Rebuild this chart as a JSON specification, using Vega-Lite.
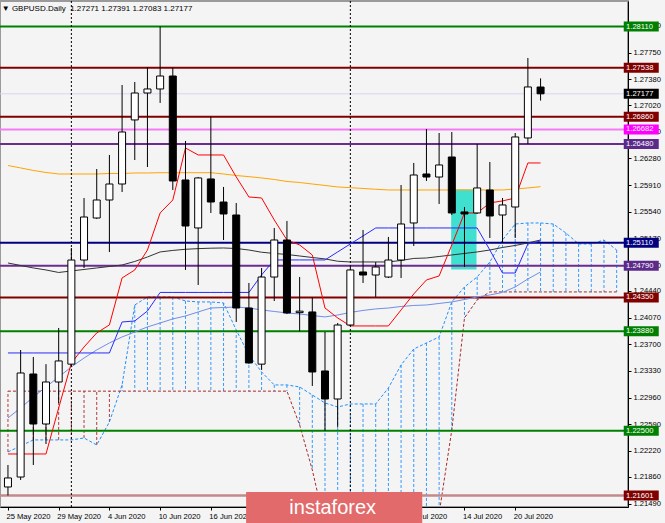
{
  "$schema": "https://vega.github.io/schema/vega-lite/v6.json",
  "autosize": {"type": "none"},
  "padding": {"left": 0, "top": 1, "right": 37, "bottom": 16},
  "width": 628,
  "height": 506,
  "background": "#f4f4f4",
  "title": {
    "text": "▼ GBPUSD.Daily\u00a0 1.27271 1.27391 1.27083 1.27177",
    "anchor": "start",
    "offset": -12,
    "dx": 3,
    "font": "Liberation Sans",
    "fontSize": 8,
    "fontWeight": "normal",
    "color": "#000"
  },
  "datasets": {
    "candles": [
      {"i": 0, "d": "2020-05-25", "o": 1.2172, "h": 1.22025, "l": 1.21601, "c": 1.21845},
      {"i": 1, "d": "2020-05-26", "o": 1.21858, "h": 1.23621, "l": 1.21817, "c": 1.23302},
      {"i": 2, "d": "2020-05-27", "o": 1.23288, "h": 1.23524, "l": 1.22025, "c": 1.22594},
      {"i": 3, "d": "2020-05-28", "o": 1.22594, "h": 1.23425, "l": 1.22316, "c": 1.23177},
      {"i": 4, "d": "2020-05-29", "o": 1.23177, "h": 1.23927, "l": 1.22886, "c": 1.23469},
      {"i": 5, "d": "2020-06-01", "o": 1.23425, "h": 1.25037, "l": 1.23397, "c": 1.2487},
      {"i": 6, "d": "2020-06-02", "o": 1.2487, "h": 1.25731, "l": 1.24759, "c": 1.25467},
      {"i": 7, "d": "2020-06-03", "o": 1.25453, "h": 1.26133, "l": 1.2544, "c": 1.25703},
      {"i": 8, "d": "2020-06-04", "o": 1.25703, "h": 1.26328, "l": 1.24981, "c": 1.25925},
      {"i": 9, "d": "2020-06-05", "o": 1.25925, "h": 1.27299, "l": 1.25814, "c": 1.26647},
      {"i": 10, "d": "2020-06-08", "o": 1.26814, "h": 1.27341, "l": 1.26258, "c": 1.27188},
      {"i": 11, "d": "2020-06-09", "o": 1.27188, "h": 1.27549, "l": 1.26161, "c": 1.27244},
      {"i": 12, "d": "2020-06-10", "o": 1.27244, "h": 1.2811, "l": 1.2705, "c": 1.27424},
      {"i": 13, "d": "2020-06-11", "o": 1.27424, "h": 1.27538, "l": 1.25842, "c": 1.25967},
      {"i": 14, "d": "2020-06-12", "o": 1.25981, "h": 1.26522, "l": 1.24732, "c": 1.25342},
      {"i": 15, "d": "2020-06-15", "o": 1.25315, "h": 1.26023, "l": 1.24523, "c": 1.26009},
      {"i": 16, "d": "2020-06-16", "o": 1.25995, "h": 1.2686, "l": 1.25523, "c": 1.25675},
      {"i": 17, "d": "2020-06-17", "o": 1.25675, "h": 1.25884, "l": 1.25148, "c": 1.25509},
      {"i": 18, "d": "2020-06-18", "o": 1.25495, "h": 1.25661, "l": 1.2401, "c": 1.24204},
      {"i": 19, "d": "2020-06-19", "o": 1.24204, "h": 1.24551, "l": 1.2343, "c": 1.23441},
      {"i": 20, "d": "2020-06-22", "o": 1.23425, "h": 1.24759, "l": 1.23344, "c": 1.24634},
      {"i": 21, "d": "2020-06-23", "o": 1.24634, "h": 1.25315, "l": 1.24301, "c": 1.25148},
      {"i": 22, "d": "2020-06-24", "o": 1.25148, "h": 1.25412, "l": 1.2412, "c": 1.24135},
      {"i": 23, "d": "2020-06-25", "o": 1.2414, "h": 1.24634, "l": 1.2388, "c": 1.2416},
      {"i": 24, "d": "2020-06-26", "o": 1.24149, "h": 1.2435, "l": 1.23122, "c": 1.23316},
      {"i": 25, "d": "2020-06-29", "o": 1.2333, "h": 1.23871, "l": 1.225, "c": 1.22941},
      {"i": 26, "d": "2020-06-30", "o": 1.22941, "h": 1.23996, "l": 1.22553, "c": 1.23968},
      {"i": 27, "d": "2020-07-01", "o": 1.23968, "h": 1.24774, "l": 1.2396, "c": 1.24732},
      {"i": 28, "d": "2020-07-02", "o": 1.24704, "h": 1.25287, "l": 1.24551, "c": 1.24662},
      {"i": 29, "d": "2020-07-03", "o": 1.24662, "h": 1.24843, "l": 1.24357, "c": 1.24773},
      {"i": 30, "d": "2020-07-06", "o": 1.24634, "h": 1.2519, "l": 1.2462, "c": 1.2487},
      {"i": 31, "d": "2020-07-07", "o": 1.2487, "h": 1.25911, "l": 1.2462, "c": 1.2537},
      {"i": 32, "d": "2020-07-08", "o": 1.25384, "h": 1.26217, "l": 1.25065, "c": 1.2605},
      {"i": 33, "d": "2020-07-09", "o": 1.26064, "h": 1.26689, "l": 1.25967, "c": 1.26022},
      {"i": 34, "d": "2020-07-10", "o": 1.26022, "h": 1.26633, "l": 1.25648, "c": 1.26189},
      {"i": 35, "d": "2020-07-13", "o": 1.263, "h": 1.26647, "l": 1.25495, "c": 1.25523},
      {"i": 36, "d": "2020-07-14", "o": 1.25537, "h": 1.25606, "l": 1.24774, "c": 1.25509},
      {"i": 37, "d": "2020-07-15", "o": 1.25523, "h": 1.2648, "l": 1.2551, "c": 1.2587},
      {"i": 38, "d": "2020-07-16", "o": 1.25842, "h": 1.26231, "l": 1.25176, "c": 1.25481},
      {"i": 39, "d": "2020-07-17", "o": 1.25495, "h": 1.25731, "l": 1.25106, "c": 1.25634},
      {"i": 40, "d": "2020-07-20", "o": 1.25606, "h": 1.26633, "l": 1.25176, "c": 1.26578},
      {"i": 41, "d": "2020-07-21", "o": 1.26564, "h": 1.27674, "l": 1.2648, "c": 1.27272},
      {"i": 42, "d": "2020-07-22", "o": 1.27271, "h": 1.27391, "l": 1.27083, "c": 1.27177}
    ],
    "ind": [
      {"i": 0, "ma1": 1.26182, "ma2": 1.24829, "ma3": 1.22678, "ts": 1.22178, "ks": 1.2358},
      {"i": 1, "ma1": 1.26148, "ma2": 1.24794, "ma3": 1.22817, "ts": 1.22178, "ks": 1.2358},
      {"i": 2, "ma1": 1.26113, "ma2": 1.2476, "ma3": 1.22969, "ts": 1.22178, "ks": 1.2358},
      {"i": 3, "ma1": 1.26085, "ma2": 1.24732, "ma3": 1.23108, "ts": 1.22178, "ks": 1.2358},
      {"i": 4, "ma1": 1.26064, "ma2": 1.24697, "ma3": 1.23247, "ts": 1.22817, "ks": 1.2358},
      {"i": 5, "ma1": 1.26064, "ma2": 1.24718, "ma3": 1.23386, "ts": 1.23441, "ks": 1.2358},
      {"i": 6, "ma1": 1.26064, "ma2": 1.24739, "ma3": 1.2351, "ts": 1.23663, "ks": 1.2358},
      {"i": 7, "ma1": 1.26064, "ma2": 1.2476, "ma3": 1.23622, "ts": 1.23858, "ks": 1.2358},
      {"i": 8, "ma1": 1.26071, "ma2": 1.2478, "ma3": 1.23719, "ts": 1.23969, "ks": 1.2358},
      {"i": 9, "ma1": 1.26071, "ma2": 1.24801, "ma3": 1.23802, "ts": 1.24621, "ks": 1.2401},
      {"i": 10, "ma1": 1.26078, "ma2": 1.2485, "ma3": 1.23871, "ts": 1.24732, "ks": 1.24024},
      {"i": 11, "ma1": 1.26078, "ma2": 1.24912, "ma3": 1.23941, "ts": 1.25009, "ks": 1.24163},
      {"i": 12, "ma1": 1.26082, "ma2": 1.24982, "ma3": 1.23996, "ts": 1.25523, "ks": 1.2442},
      {"i": 13, "ma1": 1.26082, "ma2": 1.25003, "ma3": 1.24052, "ts": 1.25703, "ks": 1.2442},
      {"i": 14, "ma1": 1.26082, "ma2": 1.25019, "ma3": 1.24093, "ts": 1.26425, "ks": 1.2442},
      {"i": 15, "ma1": 1.26082, "ma2": 1.25028, "ma3": 1.24149, "ts": 1.26328, "ks": 1.2442},
      {"i": 16, "ma1": 1.26082, "ma2": 1.25034, "ma3": 1.24204, "ts": 1.26328, "ks": 1.2442},
      {"i": 17, "ma1": 1.26064, "ma2": 1.25037, "ma3": 1.24211, "ts": 1.26328, "ks": 1.2442},
      {"i": 18, "ma1": 1.26043, "ma2": 1.2503, "ma3": 1.24218, "ts": 1.26023, "ks": 1.2442},
      {"i": 19, "ma1": 1.26027, "ma2": 1.25009, "ma3": 1.24204, "ts": 1.25745, "ks": 1.2442},
      {"i": 20, "ma1": 1.26009, "ma2": 1.24978, "ma3": 1.24177, "ts": 1.25731, "ks": 1.24663},
      {"i": 21, "ma1": 1.25988, "ma2": 1.24961, "ma3": 1.24156, "ts": 1.25426, "ks": 1.24871},
      {"i": 22, "ma1": 1.2596, "ma2": 1.24947, "ma3": 1.24135, "ts": 1.25148, "ks": 1.24871},
      {"i": 23, "ma1": 1.25946, "ma2": 1.24926, "ma3": 1.24121, "ts": 1.25079, "ks": 1.24871},
      {"i": 24, "ma1": 1.25925, "ma2": 1.24905, "ma3": 1.241, "ts": 1.2494, "ks": 1.24871},
      {"i": 25, "ma1": 1.25905, "ma2": 1.24885, "ma3": 1.2408, "ts": 1.24204, "ks": 1.24871},
      {"i": 26, "ma1": 1.25884, "ma2": 1.24853, "ma3": 1.24107, "ts": 1.24066, "ks": 1.24982},
      {"i": 27, "ma1": 1.25874, "ma2": 1.24843, "ma3": 1.24142, "ts": 1.23955, "ks": 1.25093},
      {"i": 28, "ma1": 1.25863, "ma2": 1.24843, "ma3": 1.2417, "ts": 1.23955, "ks": 1.25204},
      {"i": 29, "ma1": 1.25852, "ma2": 1.24843, "ma3": 1.24191, "ts": 1.23955, "ks": 1.25315},
      {"i": 30, "ma1": 1.25842, "ma2": 1.24843, "ma3": 1.24204, "ts": 1.23955, "ks": 1.25315},
      {"i": 31, "ma1": 1.25842, "ma2": 1.24864, "ma3": 1.24225, "ts": 1.24177, "ks": 1.25315},
      {"i": 32, "ma1": 1.25842, "ma2": 1.24892, "ma3": 1.24239, "ts": 1.24399, "ks": 1.25315},
      {"i": 33, "ma1": 1.25842, "ma2": 1.24898, "ma3": 1.24246, "ts": 1.24593, "ks": 1.25315},
      {"i": 34, "ma1": 1.25842, "ma2": 1.24919, "ma3": 1.24267, "ts": 1.24649, "ks": 1.25315},
      {"i": 35, "ma1": 1.25842, "ma2": 1.2494, "ma3": 1.24288, "ts": 1.25079, "ks": 1.25315},
      {"i": 36, "ma1": 1.25842, "ma2": 1.24961, "ma3": 1.24322, "ts": 1.25523, "ks": 1.25315},
      {"i": 37, "ma1": 1.25842, "ma2": 1.24982, "ma3": 1.24357, "ts": 1.25523, "ks": 1.25315},
      {"i": 38, "ma1": 1.25842, "ma2": 1.25009, "ma3": 1.24385, "ts": 1.25662, "ks": 1.25009},
      {"i": 39, "ma1": 1.25842, "ma2": 1.25044, "ma3": 1.2442, "ts": 1.2569, "ks": 1.2469},
      {"i": 40, "ma1": 1.25856, "ma2": 1.25072, "ma3": 1.24496, "ts": 1.25731, "ks": 1.2469},
      {"i": 41, "ma1": 1.2587, "ma2": 1.25107, "ma3": 1.24607, "ts": 1.26217, "ks": 1.25093},
      {"i": 42, "ma1": 1.25888, "ma2": 1.25148, "ma3": 1.24704, "ts": 1.26217, "ks": 1.25134}
    ],
    "cloud": [
      {"i": 0, "a": 1.22206, "b": 1.2305},
      {"i": 1, "a": 1.22289, "b": 1.2305},
      {"i": 2, "a": 1.22373, "b": 1.2305},
      {"i": 3, "a": 1.22373, "b": 1.2305},
      {"i": 4, "a": 1.22373, "b": 1.2305},
      {"i": 5, "a": 1.22373, "b": 1.2305},
      {"i": 6, "a": 1.224, "b": 1.2305},
      {"i": 7, "a": 1.22303, "b": 1.2305},
      {"i": 8, "a": 1.22622, "b": 1.2305},
      {"i": 9, "a": 1.23136, "b": 1.2305},
      {"i": 10, "a": 1.24246, "b": 1.2305},
      {"i": 11, "a": 1.24357, "b": 1.2305},
      {"i": 12, "a": 1.24357, "b": 1.2305},
      {"i": 13, "a": 1.24357, "b": 1.2305},
      {"i": 14, "a": 1.24302, "b": 1.2305},
      {"i": 15, "a": 1.24288, "b": 1.2305},
      {"i": 16, "a": 1.24288, "b": 1.2305},
      {"i": 17, "a": 1.24274, "b": 1.2305},
      {"i": 18, "a": 1.23899, "b": 1.2305},
      {"i": 19, "a": 1.23552, "b": 1.2305},
      {"i": 20, "a": 1.23316, "b": 1.2305},
      {"i": 21, "a": 1.23136, "b": 1.2305},
      {"i": 22, "a": 1.23136, "b": 1.2305},
      {"i": 23, "a": 1.23108, "b": 1.22581},
      {"i": 24, "a": 1.22997, "b": 1.21956},
      {"i": 25, "a": 1.22886, "b": 1.2119},
      {"i": 26, "a": 1.2283, "b": 1.208},
      {"i": 27, "a": 1.22872, "b": 1.206},
      {"i": 28, "a": 1.22872, "b": 1.206},
      {"i": 29, "a": 1.22872, "b": 1.206},
      {"i": 30, "a": 1.23094, "b": 1.206},
      {"i": 31, "a": 1.23413, "b": 1.207},
      {"i": 32, "a": 1.23635, "b": 1.209},
      {"i": 33, "a": 1.23719, "b": 1.2115},
      {"i": 34, "a": 1.23802, "b": 1.2135},
      {"i": 35, "a": 1.24288, "b": 1.22511},
      {"i": 36, "a": 1.24496, "b": 1.24066},
      {"i": 37, "a": 1.24635, "b": 1.24316},
      {"i": 38, "a": 1.24843, "b": 1.24427},
      {"i": 39, "a": 1.25148, "b": 1.24427},
      {"i": 40, "a": 1.2537, "b": 1.24427},
      {"i": 41, "a": 1.25384, "b": 1.24427},
      {"i": 42, "a": 1.25384, "b": 1.24427},
      {"i": 43, "a": 1.2537, "b": 1.24427},
      {"i": 44, "a": 1.25245, "b": 1.24427},
      {"i": 45, "a": 1.25093, "b": 1.24427},
      {"i": 46, "a": 1.25093, "b": 1.24427},
      {"i": 47, "a": 1.25148, "b": 1.24427},
      {"i": 48, "a": 1.25009, "b": 1.24427}
    ],
    "levels": [
      {"p": 1.2811, "t": "1.28110"},
      {"p": 1.27538, "t": "1.27538"},
      {"p": 1.27177, "t": "1.27177"},
      {"p": 1.2686, "t": "1.26860"},
      {"p": 1.26682, "t": "1.26682"},
      {"p": 1.2648, "t": "1.26480"},
      {"p": 1.2511, "t": "1.25110"},
      {"p": 1.2479, "t": "1.24790"},
      {"p": 1.2435, "t": "1.24350"},
      {"p": 1.2388, "t": "1.23880"},
      {"p": 1.225, "t": "1.22500"},
      {"p": 1.21601, "t": "1.21601"}
    ],
    "zone": [{"i0": 34.95, "i1": 36.95, "lo": 1.2474, "hi": 1.2585}],
    "sep": [{"i": 5}, {"i": 27}],
    "mark": [{"name": "instaforex"}]
  },
  "layer": [
    {
      "data": {"name": "zone"},
      "mark": {"type": "rect", "color": "#40e0d0"},
      "encoding": {
        "x": {"field": "i0", "type": "quantitative", "scale": {"domain": [-0.233, 48.5], "nice": false, "zero": false}, "axis": {"title": null}},
        "x2": {"field": "i1"},
        "y": {"field": "lo", "type": "quantitative", "scale": {"domain": [1.21442, 1.28465], "nice": false, "zero": false}, "axis": {"title": null}},
        "y2": {"field": "hi"}
      }
    },
    {
      "data": {"name": "cloud"},
      "mark": {"type": "rule", "strokeDash": [3, 2], "strokeWidth": 1, "clip": true},
      "encoding": {
        "x": {"field": "i", "type": "quantitative", "scale": {"domain": [-0.233, 48.5], "nice": false, "zero": false}, "axis": {"title": null}},
        "y": {"field": "a", "type": "quantitative", "scale": {"domain": [1.21442, 1.28465], "nice": false, "zero": false}, "axis": {"title": null}},
        "y2": {"field": "b"},
        "color": {"condition": {"test": "datum.a >= datum.b", "value": "#3399ff"}, "value": "#b03a3a"}
      }
    },
    {
      "data": {"name": "cloud"},
      "mark": {"type": "line", "color": "#1e90ff", "strokeDash": [3, 2], "strokeWidth": 1, "clip": true},
      "encoding": {
        "x": {"field": "i", "type": "quantitative", "scale": {"domain": [-0.233, 48.5], "nice": false, "zero": false}, "axis": {"title": null}},
        "y": {"field": "a", "type": "quantitative", "scale": {"domain": [1.21442, 1.28465], "nice": false, "zero": false}, "axis": {"title": null}}
      }
    },
    {
      "data": {"name": "cloud"},
      "mark": {"type": "line", "color": "#a52a2a", "strokeDash": [3, 2], "strokeWidth": 1, "clip": true},
      "encoding": {
        "x": {"field": "i", "type": "quantitative", "scale": {"domain": [-0.233, 48.5], "nice": false, "zero": false}, "axis": {"title": null}},
        "y": {"field": "b", "type": "quantitative", "scale": {"domain": [1.21442, 1.28465], "nice": false, "zero": false}, "axis": {"title": null}}
      }
    },
    {
      "data": {"name": "levels"},
      "mark": {"type": "rule"},
      "encoding": {
        "y": {"field": "p", "type": "quantitative", "scale": {"domain": [1.21442, 1.28465], "nice": false, "zero": false}, "axis": {"title": null}},
        "stroke": {
          "field": "t", "type": "nominal", "legend": null,
          "scale": {
            "domain": ["1.28110", "1.27538", "1.27177", "1.26860", "1.26682", "1.26480", "1.25110", "1.24790", "1.24350", "1.23880", "1.22500", "1.21601"],
            "range": ["#008000", "#800000", "#d6d6f2", "#800000", "#f57af5", "#6a2c91", "#000080", "#6a2c91", "#800000", "#008000", "#008000", "#c48a8a"]
          }
        },
        "strokeWidth": {"condition": [{"test": "datum.t == '1.27177'", "value": 1}, {"test": "datum.t == '1.21601'", "value": 2.5}], "value": 2}
      }
    },
    {
      "data": {"name": "ind"},
      "mark": {"type": "line", "color": "#ffa500", "strokeWidth": 1},
      "encoding": {
        "x": {"field": "i", "type": "quantitative", "scale": {"domain": [-0.233, 48.5], "nice": false, "zero": false}, "axis": {"title": null}},
        "y": {"field": "ma1", "type": "quantitative", "scale": {"domain": [1.21442, 1.28465], "nice": false, "zero": false}, "axis": {"title": null}}
      }
    },
    {
      "data": {"name": "ind"},
      "mark": {"type": "line", "color": "#333333", "strokeWidth": 1},
      "encoding": {
        "x": {"field": "i", "type": "quantitative", "scale": {"domain": [-0.233, 48.5], "nice": false, "zero": false}, "axis": {"title": null}},
        "y": {"field": "ma2", "type": "quantitative", "scale": {"domain": [1.21442, 1.28465], "nice": false, "zero": false}, "axis": {"title": null}}
      }
    },
    {
      "data": {"name": "ind"},
      "mark": {"type": "line", "color": "#6f8fe8", "strokeWidth": 1},
      "encoding": {
        "x": {"field": "i", "type": "quantitative", "scale": {"domain": [-0.233, 48.5], "nice": false, "zero": false}, "axis": {"title": null}},
        "y": {"field": "ma3", "type": "quantitative", "scale": {"domain": [1.21442, 1.28465], "nice": false, "zero": false}, "axis": {"title": null}}
      }
    },
    {
      "data": {"name": "ind"},
      "mark": {"type": "line", "color": "#ff0000", "strokeWidth": 1},
      "encoding": {
        "x": {"field": "i", "type": "quantitative", "scale": {"domain": [-0.233, 48.5], "nice": false, "zero": false}, "axis": {"title": null}},
        "y": {"field": "ts", "type": "quantitative", "scale": {"domain": [1.21442, 1.28465], "nice": false, "zero": false}, "axis": {"title": null}}
      }
    },
    {
      "data": {"name": "ind"},
      "mark": {"type": "line", "color": "#2a2aff", "strokeWidth": 1},
      "encoding": {
        "x": {"field": "i", "type": "quantitative", "scale": {"domain": [-0.233, 48.5], "nice": false, "zero": false}, "axis": {"title": null}},
        "y": {"field": "ks", "type": "quantitative", "scale": {"domain": [1.21442, 1.28465], "nice": false, "zero": false}, "axis": {"title": null}}
      }
    },
    {
      "data": {"name": "sep"},
      "mark": {"type": "rule", "color": "#000", "strokeDash": [2, 2], "strokeWidth": 1},
      "encoding": {
        "x": {"field": "i", "type": "quantitative", "scale": {"domain": [-0.233, 48.5], "nice": false, "zero": false}, "axis": {"title": null}}
      }
    },
    {
      "data": {"name": "candles"},
      "mark": {"type": "rule", "color": "#000", "strokeWidth": 1},
      "encoding": {
        "x": {
          "field": "i", "type": "quantitative",
          "scale": {"domain": [-0.233, 48.5], "nice": false, "zero": false},
          "axis": {
            "values": [0, 4, 8, 12, 16, 20, 24, 28, 32, 36, 40],
            "labelExpr": "['25 May 2020','29 May 2020','4 Jun 2020','10 Jun 2020','16 Jun 2020','22 Jun 2020','26 Jun 2020','2 Jul 2020','8 Jul 2020','14 Jul 2020','20 Jul 2020'][round(datum.value / 4)]",
            "labelAlign": "left",
            "labelPadding": 2,
            "labelOffset": -2,
            "tickSize": 3,
            "tickCount": 50,
            "labelFlush": false,
            "labelOverlap": false,
            "title": null
          }
        },
        "y": {
          "field": "l", "type": "quantitative",
          "scale": {"domain": [1.21442, 1.28465], "nice": false, "zero": false},
          "axis": {
            "orient": "right",
            "values": [1.2812, 1.2775, 1.2738, 1.2702, 1.2665, 1.2628, 1.2591, 1.2554, 1.2517, 1.248, 1.2444, 1.2407, 1.237, 1.2333, 1.2296, 1.2259, 1.2222, 1.2186, 1.2149],
            "format": ".5f",
            "tickSize": 3,
            "tickCount": 50,
            "labelPadding": 2,
            "labelFlush": false,
            "labelOverlap": false,
            "title": null
          }
        },
        "y2": {"field": "h"}
      }
    },
    {
      "data": {"name": "candles"},
      "mark": {"type": "bar", "width": 7, "stroke": "#000", "strokeWidth": 1},
      "encoding": {
        "x": {"field": "i", "type": "quantitative", "scale": {"domain": [-0.233, 48.5], "nice": false, "zero": false}, "axis": {"title": null}},
        "y": {"field": "o", "type": "quantitative", "scale": {"domain": [1.21442, 1.28465], "nice": false, "zero": false}, "axis": {"title": null}},
        "y2": {"field": "c"},
        "fill": {"condition": {"test": "datum.c >= datum.o", "value": "#ffffff"}, "value": "#000000"}
      }
    },
    {
      "data": {"name": "levels"},
      "mark": {"type": "tick", "orient": "vertical", "thickness": 35, "size": 10, "opacity": 1, "clip": false},
      "encoding": {
        "x": {"datum": 49.94, "type": "quantitative", "scale": {"domain": [-0.233, 48.5], "nice": false, "zero": false}, "axis": {"title": null}},
        "y": {"field": "p", "type": "quantitative", "scale": {"domain": [1.21442, 1.28465], "nice": false, "zero": false}, "axis": {"title": null}},
        "color": {
          "field": "t", "type": "nominal", "legend": null,
          "scale": {
            "domain": ["1.28110", "1.27538", "1.27177", "1.26860", "1.26682", "1.26480", "1.25110", "1.24790", "1.24350", "1.23880", "1.22500", "1.21601"],
            "range": ["#008000", "#800000", "#000000", "#800000", "#ff00ff", "#5c2a8a", "#000080", "#5c2a8a", "#800000", "#008000", "#008000", "#800000"]
          }
        }
      }
    },
    {
      "data": {"name": "levels"},
      "mark": {"type": "text", "align": "left", "baseline": "middle", "color": "#ffffff", "font": "Liberation Sans", "fontSize": 7.6, "clip": false},
      "encoding": {
        "x": {"datum": 48.74, "type": "quantitative", "scale": {"domain": [-0.233, 48.5], "nice": false, "zero": false}, "axis": {"title": null}},
        "y": {"field": "p", "type": "quantitative", "scale": {"domain": [1.21442, 1.28465], "nice": false, "zero": false}, "axis": {"title": null}},
        "text": {"field": "t"}
      }
    },
    {
      "data": {"name": "mark"},
      "mark": {"type": "rect", "color": "#e26a6a", "clip": false},
      "encoding": {
        "x": {"datum": 18.78, "type": "quantitative", "scale": {"domain": [-0.233, 48.5], "nice": false, "zero": false}, "axis": {"title": null}},
        "x2": {"datum": 32.67},
        "y": {"datum": 1.21651, "type": "quantitative", "scale": {"domain": [1.21442, 1.28465], "nice": false, "zero": false}, "axis": {"title": null}},
        "y2": {"datum": 1.2122}
      }
    },
    {
      "data": {"name": "mark"},
      "mark": {"type": "text", "color": "#ffffff", "font": "Liberation Sans", "fontSize": 20, "align": "center", "baseline": "middle", "clip": false},
      "encoding": {
        "x": {"datum": 25.61, "type": "quantitative", "scale": {"domain": [-0.233, 48.5], "nice": false, "zero": false}, "axis": {"title": null}},
        "y": {"datum": 1.21429, "type": "quantitative", "scale": {"domain": [1.21442, 1.28465], "nice": false, "zero": false}, "axis": {"title": null}},
        "text": {"field": "name"}
      }
    }
  ],
  "config": {
    "view": {"stroke": "#9a9a9a", "strokeWidth": 2},
    "axis": {
      "labelFont": "Liberation Sans",
      "labelFontSize": 7.6,
      "labelColor": "#000",
      "domainColor": "#000",
      "tickColor": "#000",
      "grid": false,
      "labelOverlap": false,
      "labelBound": false
    }
  }
}
